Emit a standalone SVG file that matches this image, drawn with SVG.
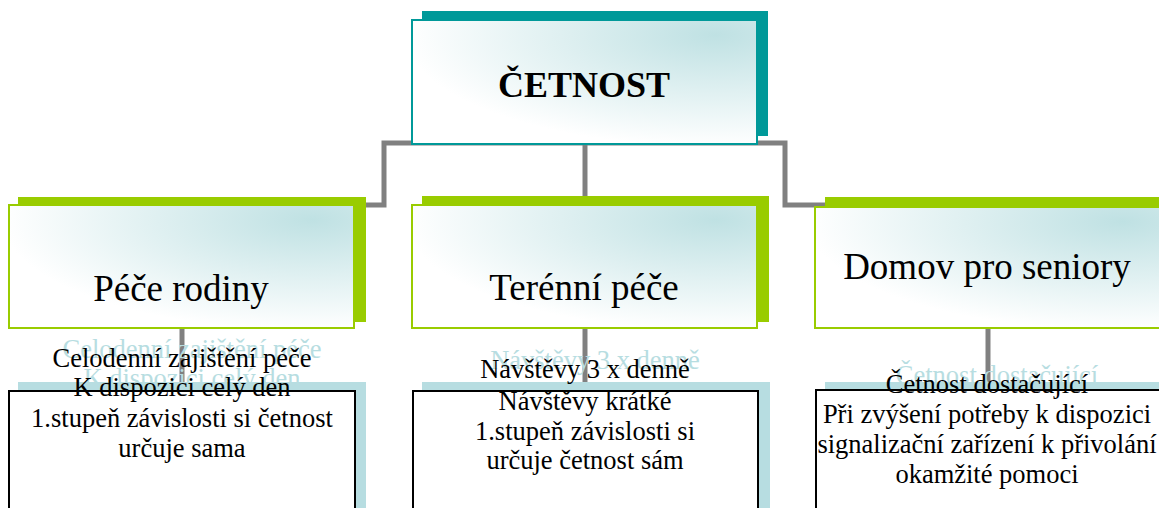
<svg xmlns="http://www.w3.org/2000/svg" width="1159" height="508" viewBox="0 0 1159 508">
  <defs>
    <radialGradient id="fill" cx="0.88" cy="0.12" r="1.0" fx="0.88" fy="0.12">
      <stop offset="0" stop-color="#bfe1e3"/>
      <stop offset="0.9" stop-color="#ffffff"/>
    </radialGradient>
    <style>
      .conn { fill: none; stroke: #808080; stroke-width: 5; }
      .head-shadow { fill: #009999; }
      .head { fill: url(#fill); stroke: #009999; stroke-width: 2; }
      .cat-shadow { fill: #99cc00; }
      .cat { fill: url(#fill); stroke: #99cc00; stroke-width: 2; }
      .note-shadow { fill: #b7dde1; }
      .note { fill: #ffffff; stroke: #000000; stroke-width: 2; }
      .t { font-family: 'Liberation Serif', 'Tinos', 'Times New Roman', 'DejaVu Serif', 'Noto Serif', serif; text-anchor: middle; }
      .title { font-size: 36px; font-weight: bold; fill: #000; }
      .cat-label { font-size: 37px; fill: #000; }
      .note-text { font-size: 26.5px; fill: #000; }
      .note-ghost { font-size: 26.5px; fill: #b7dde1; }
    </style>
  </defs>

  <!-- connectors -->
  <g id="connectors">
    <polyline class="conn" points="366,205 384,205 384,143 785,143 785,205 826,205"/>
    <line class="conn" x1="585" y1="143" x2="585" y2="197"/>
    <line class="conn" x1="182" y1="328" x2="182" y2="383"/>
    <line class="conn" x1="585" y1="328" x2="585" y2="383"/>
    <line class="conn" x1="988" y1="328" x2="988" y2="383"/>
  </g>

  <!-- root -->
  <g id="node-cetnost">
    <rect class="head-shadow" x="422" y="11" width="346" height="125"/>
    <rect class="head" x="412" y="20" width="345" height="124"/>
    <text class="t title" x="584" y="97">ČETNOST</text>
  </g>

  <!-- categories -->
  <g id="node-pece-rodiny">
    <rect class="cat-shadow" x="18" y="197" width="348" height="125"/>
    <rect class="cat" x="9" y="205" width="345" height="123"/>
    <text class="t cat-label" x="181" y="301">Péče rodiny</text>
  </g>
  <g id="node-terenni-pece">
    <rect class="cat-shadow" x="422" y="196" width="347" height="126"/>
    <rect class="cat" x="412" y="205" width="345" height="123"/>
    <text class="t cat-label" x="584" y="300">Terénní péče</text>
  </g>
  <g id="node-domov">
    <rect class="cat-shadow" x="825" y="197" width="340" height="125"/>
    <rect class="cat" x="815" y="207" width="350" height="121"/>
    <text class="t cat-label" x="987" y="279">Domov pro seniory</text>
  </g>

  <!-- detail notes: pale echo of the first lines, white card, then the text -->
  <g id="note-pece-rodiny">
    <rect class="note-shadow" x="18" y="382" width="348" height="140"/>
    <text class="t note-ghost" x="192" y="358">Celodenní zajištění péče</text>
    <text class="t note-ghost" x="192" y="387">K dispozici celý den</text>
    <rect class="note" x="9" y="391" width="346" height="130"/>
    <text class="t note-text" x="182" y="367">Celodenní zajištění péče</text>
    <text class="t note-text" x="182" y="396">K dispozici celý den</text>
    <text class="t note-text" x="182" y="427">1.stupeň závislosti si četnost</text>
    <text class="t note-text" x="182" y="457">určuje sama</text>
  </g>
  <g id="note-terenni-pece">
    <rect class="note-shadow" x="422" y="382" width="348" height="140"/>
    <text class="t note-ghost" x="595" y="369">Návštěvy 3 x denně</text>
    <rect class="note" x="413" y="391" width="345" height="130"/>
    <text class="t note-text" x="585" y="378">Návštěvy 3 x denně</text>
    <text class="t note-text" x="585" y="410">Návštěvy krátké</text>
    <text class="t note-text" x="585" y="440">1.stupeň závislosti si</text>
    <text class="t note-text" x="585" y="469">určuje četnost sám</text>
  </g>
  <g id="note-domov">
    <rect class="note-shadow" x="825" y="382" width="340" height="140"/>
    <text class="t note-ghost" x="997" y="384">Četnost dostačující</text>
    <rect class="note" x="816" y="390" width="350" height="130"/>
    <text class="t note-text" x="987" y="393">Četnost dostačující</text>
    <text class="t note-text" x="987" y="423">Při zvýšení potřeby k dispozici</text>
    <text class="t note-text" x="987" y="453">signalizační zařízení k přivolání</text>
    <text class="t note-text" x="987" y="483">okamžité pomoci</text>
  </g>
</svg>
